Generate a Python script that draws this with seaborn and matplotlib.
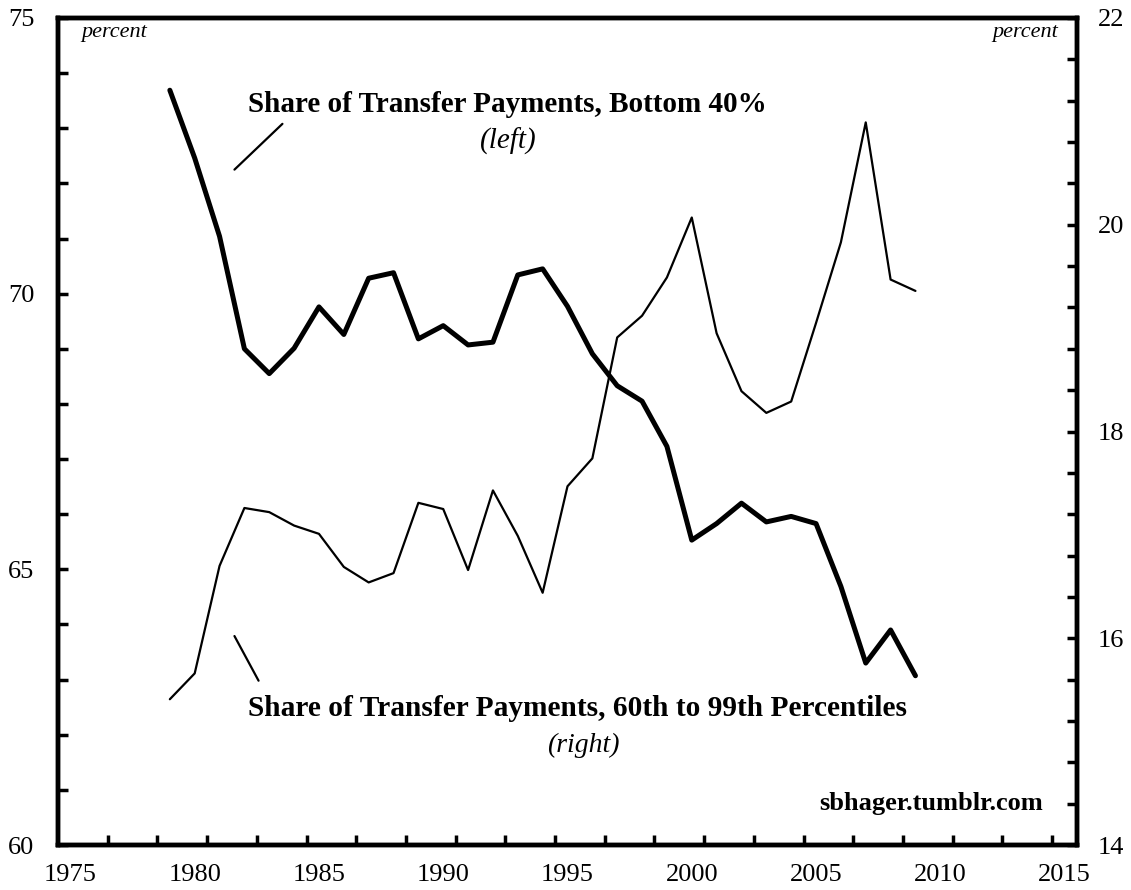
import numpy as np
import pandas as pd
import matplotlib
matplotlib.use("Agg")
import matplotlib.pyplot as plt
from matplotlib.ticker import MultipleLocator, FixedLocator
import seaborn as sns

years = list(range(1979, 2010))
bottom40 = [73.69, 72.46, 71.04, 69.00, 68.55, 69.01, 69.76, 69.26, 70.28, 70.38,
            69.18, 69.42, 69.07, 69.12, 70.34, 70.45, 69.77, 68.91, 68.33, 68.05,
            67.23, 65.53, 65.83, 66.20, 65.86, 65.96, 65.83, 64.69, 63.30, 63.90,
            63.07]
pct60_99 = [15.41, 15.66, 16.70, 17.26, 17.22, 17.09, 17.01, 16.69, 16.54, 16.63,
            17.31, 17.25, 16.66, 17.43, 16.99, 16.44, 17.47, 17.74, 18.91, 19.12,
            19.49, 20.07, 18.95, 18.39, 18.18, 18.29, 19.05, 19.83, 20.99, 19.47,
            19.36]
year_labels = [1975, 1980, 1985, 1990, 1995, 2000, 2005, 2010, 2015]

df = pd.DataFrame({"year": years, "bottom40": bottom40, "pct60_99": pct60_99})

sns.set_style("white")
plt.rcParams['font.family'] = ['Liberation Serif', 'DejaVu Serif']
plt.rcParams['text.color'] = 'black'
plt.rcParams['xtick.color'] = 'black'
plt.rcParams['ytick.color'] = 'black'

fig = plt.figure(figsize=(11.31, 8.9), dpi=100)
ax = fig.add_axes([58/1131, 1-845/890, (1077-58)/1131, (845-18)/890])
ax2 = ax.twinx()

sns.lineplot(data=df, x="year", y="bottom40", ax=ax, color="black", lw=3.6)
sns.lineplot(data=df, x="year", y="pct60_99", ax=ax2, color="black", lw=1.6)

ax.set_xlim(1974.5, 2015.5)
ax.set_ylim(60, 75)
ax2.set_ylim(14, 22)
for a in (ax, ax2):
    a.set_xlabel("")
    a.set_ylabel("")
    for s in a.spines.values():
        s.set_linewidth(3.2)
        s.set_color("black")

ax.xaxis.set_major_locator(FixedLocator(year_labels))
ax.xaxis.set_minor_locator(FixedLocator(np.arange(1976.5, 2015, 2)))
ax.tick_params(axis="x", which="major", length=0, pad=14, labelsize=19)
ax.tick_params(axis="x", which="minor", direction="in", length=7, width=2.5, bottom=True)

ax.yaxis.set_major_locator(MultipleLocator(5))
ax.yaxis.set_minor_locator(MultipleLocator(1))
ax.tick_params(axis="y", which="both", direction="in", length=7, width=2.5, left=True,
               pad=17, labelsize=19)

ax2.yaxis.set_major_locator(MultipleLocator(2))
ax2.yaxis.set_minor_locator(MultipleLocator(0.4))
ax2.tick_params(axis="y", which="both", direction="in", length=7, width=2.5, right=True,
                pad=15, labelsize=19)

# labels
ax.text(1982.16, 73.43, "Share of Transfer Payments, Bottom 40%", fontsize=21,
        fontweight="bold", ha="left", va="center")
ax.text(1992.63, 72.76, "(left)", fontsize=21, style="italic", ha="center", va="center")
ax.plot([1981.6, 1983.53], [72.25, 73.08], color="black", lw=1.6)

ax.text(1982.16, 62.47, "Share of Transfer Payments, 60th to 99th Percentiles", fontsize=21.2,
        fontweight="bold", ha="left", va="center")
ax.text(1995.64, 61.81, "(right)", fontsize=20, style="italic", ha="center", va="center")
ax.plot([1981.6, 1982.57], [63.79, 62.98], color="black", lw=1.6)

ax.text(2014.15, 60.76, "sbhager.tumblr.com", fontsize=19, fontweight="bold",
        ha="right", va="center")
ax.text(0.055, 0.983, "percent", transform=ax.transAxes, fontsize=16, style="italic",
        ha="center", va="center")
ax.text(0.949, 0.983, "percent", transform=ax.transAxes, fontsize=16, style="italic",
        ha="center", va="center")

plt.savefig("out.png", dpi=100)
